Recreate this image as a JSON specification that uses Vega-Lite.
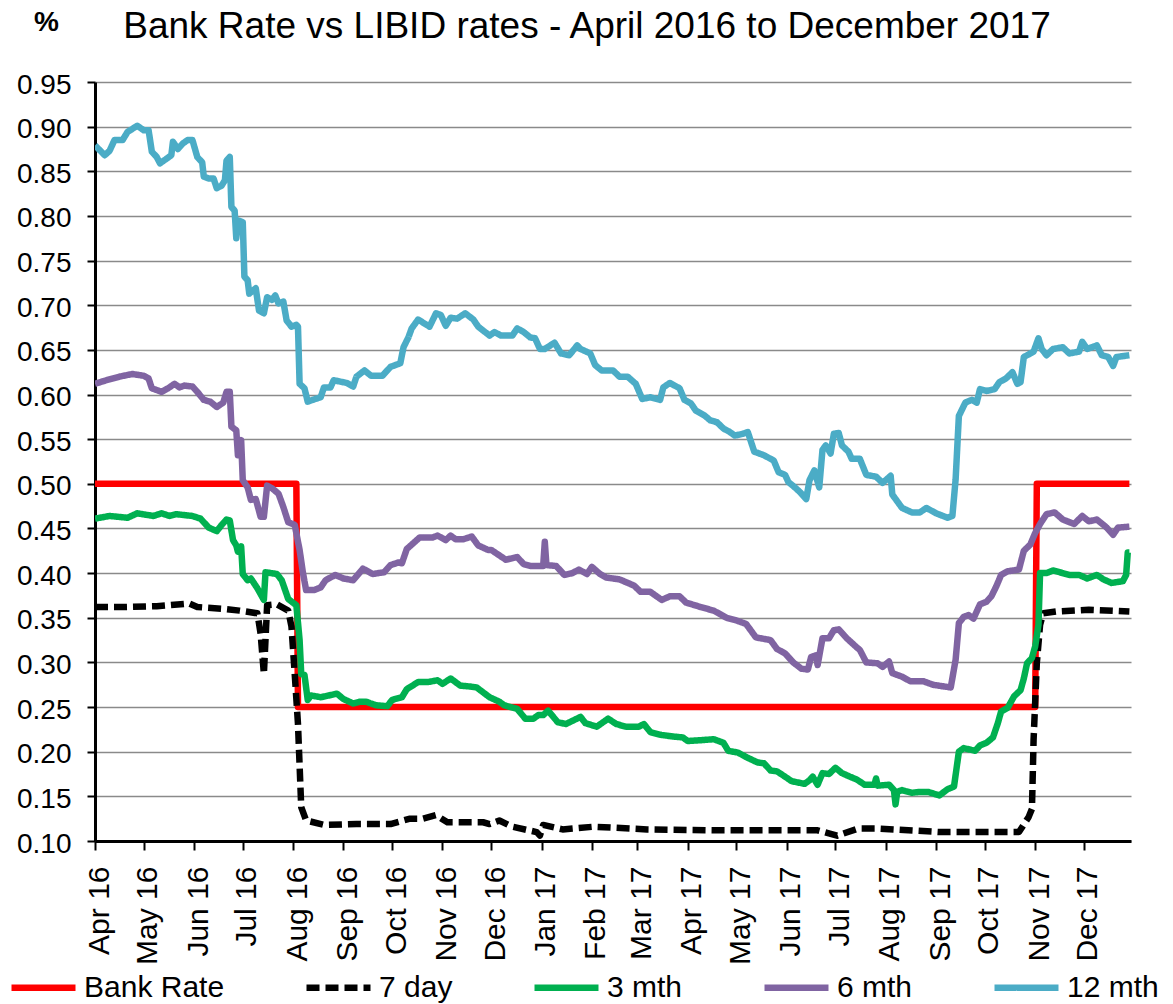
{
"$schema": "https://vega.github.io/schema/vega-lite/v6.json",
"autosize": "none",
"width": 1036,
"height": 759,
"padding": {"left": 95, "top": 82, "right": 42, "bottom": 163},
"background": "white",
"title": {"text": "Bank Rate vs LIBID rates - April 2016 to December 2017", "font": "Liberation Sans", "fontSize": 37, "fontWeight": "normal", "color": "black", "anchor": "middle", "dx": -26, "offset": -38},
"config": {"view": {"stroke": null}, "font": "Liberation Sans"},
"data": {"values": [
{"s":"Bank Rate","d":"2016-04-01","v":0.5},{"s":"Bank Rate","d":"2016-08-03","v":0.5},{"s":"Bank Rate","d":"2016-08-04","v":0.25},{"s":"Bank Rate","d":"2017-11-01","v":0.25},{"s":"Bank Rate","d":"2017-11-02","v":0.5},{"s":"Bank Rate","d":"2017-12-29","v":0.5},
{"s":"7 day","d":"2016-04-01","v":0.362},{"s":"7 day","d":"2016-04-19","v":0.362},{"s":"7 day","d":"2016-05-09","v":0.363},{"s":"7 day","d":"2016-05-29","v":0.366},{"s":"7 day","d":"2016-06-03","v":0.362},{"s":"7 day","d":"2016-06-19","v":0.360},{"s":"7 day","d":"2016-06-29","v":0.358},{"s":"7 day","d":"2016-07-10","v":0.355},{"s":"7 day","d":"2016-07-12","v":0.332},{"s":"7 day","d":"2016-07-14","v":0.287},{"s":"7 day","d":"2016-07-16","v":0.364},{"s":"7 day","d":"2016-07-22","v":0.365},{"s":"7 day","d":"2016-07-29","v":0.358},{"s":"7 day","d":"2016-07-31","v":0.340},{"s":"7 day","d":"2016-08-02","v":0.287},{"s":"7 day","d":"2016-08-04","v":0.231},{"s":"7 day","d":"2016-08-06","v":0.138},{"s":"7 day","d":"2016-08-09","v":0.123},{"s":"7 day","d":"2016-08-20","v":0.118},{"s":"7 day","d":"2016-09-09","v":0.119},{"s":"7 day","d":"2016-09-30","v":0.119},{"s":"7 day","d":"2016-10-12","v":0.125},{"s":"7 day","d":"2016-10-20","v":0.125},{"s":"7 day","d":"2016-10-28","v":0.129},{"s":"7 day","d":"2016-11-04","v":0.121},{"s":"7 day","d":"2016-11-26","v":0.121},{"s":"7 day","d":"2016-11-30","v":0.119},{"s":"7 day","d":"2016-12-06","v":0.123},{"s":"7 day","d":"2016-12-14","v":0.116},{"s":"7 day","d":"2016-12-29","v":0.110},{"s":"7 day","d":"2016-12-31","v":0.106},{"s":"7 day","d":"2017-01-02","v":0.118},{"s":"7 day","d":"2017-01-14","v":0.113},{"s":"7 day","d":"2017-02-02","v":0.116},{"s":"7 day","d":"2017-03-07","v":0.113},{"s":"7 day","d":"2017-04-17","v":0.112},{"s":"7 day","d":"2017-05-28","v":0.112},{"s":"7 day","d":"2017-06-20","v":0.112},{"s":"7 day","d":"2017-07-02","v":0.106},{"s":"7 day","d":"2017-07-15","v":0.114},{"s":"7 day","d":"2017-07-27","v":0.114},{"s":"7 day","d":"2017-09-03","v":0.110},{"s":"7 day","d":"2017-10-14","v":0.110},{"s":"7 day","d":"2017-10-22","v":0.110},{"s":"7 day","d":"2017-10-28","v":0.127},{"s":"7 day","d":"2017-10-30","v":0.136},{"s":"7 day","d":"2017-10-31","v":0.213},{"s":"7 day","d":"2017-11-02","v":0.299},{"s":"7 day","d":"2017-11-04","v":0.342},{"s":"7 day","d":"2017-11-06","v":0.355},{"s":"7 day","d":"2017-11-14","v":0.357},{"s":"7 day","d":"2017-12-04","v":0.359},{"s":"7 day","d":"2017-12-29","v":0.357},
{"s":"3 mth","d":"2016-04-01","v":0.461},{"s":"3 mth","d":"2016-04-10","v":0.464},{"s":"3 mth","d":"2016-04-21","v":0.462},{"s":"3 mth","d":"2016-04-27","v":0.467},{"s":"3 mth","d":"2016-05-07","v":0.464},{"s":"3 mth","d":"2016-05-12","v":0.467},{"s":"3 mth","d":"2016-05-17","v":0.464},{"s":"3 mth","d":"2016-05-21","v":0.466},{"s":"3 mth","d":"2016-05-31","v":0.464},{"s":"3 mth","d":"2016-06-05","v":0.461},{"s":"3 mth","d":"2016-06-10","v":0.451},{"s":"3 mth","d":"2016-06-15","v":0.447},{"s":"3 mth","d":"2016-06-18","v":0.454},{"s":"3 mth","d":"2016-06-21","v":0.460},{"s":"3 mth","d":"2016-06-23","v":0.459},{"s":"3 mth","d":"2016-06-25","v":0.437},{"s":"3 mth","d":"2016-06-27","v":0.431},{"s":"3 mth","d":"2016-06-28","v":0.424},{"s":"3 mth","d":"2016-06-30","v":0.430},{"s":"3 mth","d":"2016-07-01","v":0.399},{"s":"3 mth","d":"2016-07-04","v":0.392},{"s":"3 mth","d":"2016-07-06","v":0.394},{"s":"3 mth","d":"2016-07-10","v":0.383},{"s":"3 mth","d":"2016-07-14","v":0.370},{"s":"3 mth","d":"2016-07-15","v":0.401},{"s":"3 mth","d":"2016-07-22","v":0.399},{"s":"3 mth","d":"2016-07-25","v":0.392},{"s":"3 mth","d":"2016-07-29","v":0.371},{"s":"3 mth","d":"2016-08-03","v":0.364},{"s":"3 mth","d":"2016-08-05","v":0.325},{"s":"3 mth","d":"2016-08-06","v":0.287},{"s":"3 mth","d":"2016-08-08","v":0.286},{"s":"3 mth","d":"2016-08-10","v":0.258},{"s":"3 mth","d":"2016-08-12","v":0.263},{"s":"3 mth","d":"2016-08-18","v":0.261},{"s":"3 mth","d":"2016-08-28","v":0.265},{"s":"3 mth","d":"2016-09-01","v":0.259},{"s":"3 mth","d":"2016-09-07","v":0.254},{"s":"3 mth","d":"2016-09-11","v":0.256},{"s":"3 mth","d":"2016-09-15","v":0.256},{"s":"3 mth","d":"2016-09-21","v":0.252},{"s":"3 mth","d":"2016-09-28","v":0.251},{"s":"3 mth","d":"2016-10-01","v":0.258},{"s":"3 mth","d":"2016-10-07","v":0.261},{"s":"3 mth","d":"2016-10-10","v":0.270},{"s":"3 mth","d":"2016-10-17","v":0.278},{"s":"3 mth","d":"2016-10-23","v":0.278},{"s":"3 mth","d":"2016-10-29","v":0.280},{"s":"3 mth","d":"2016-11-01","v":0.276},{"s":"3 mth","d":"2016-11-06","v":0.282},{"s":"3 mth","d":"2016-11-12","v":0.274},{"s":"3 mth","d":"2016-11-18","v":0.273},{"s":"3 mth","d":"2016-11-22","v":0.272},{"s":"3 mth","d":"2016-11-30","v":0.261},{"s":"3 mth","d":"2016-12-06","v":0.256},{"s":"3 mth","d":"2016-12-09","v":0.252},{"s":"3 mth","d":"2016-12-17","v":0.248},{"s":"3 mth","d":"2016-12-22","v":0.237},{"s":"3 mth","d":"2016-12-27","v":0.237},{"s":"3 mth","d":"2016-12-30","v":0.241},{"s":"3 mth","d":"2017-01-02","v":0.241},{"s":"3 mth","d":"2017-01-05","v":0.246},{"s":"3 mth","d":"2017-01-11","v":0.233},{"s":"3 mth","d":"2017-01-16","v":0.231},{"s":"3 mth","d":"2017-01-25","v":0.239},{"s":"3 mth","d":"2017-01-28","v":0.232},{"s":"3 mth","d":"2017-02-04","v":0.228},{"s":"3 mth","d":"2017-02-11","v":0.237},{"s":"3 mth","d":"2017-02-16","v":0.231},{"s":"3 mth","d":"2017-02-22","v":0.228},{"s":"3 mth","d":"2017-03-02","v":0.228},{"s":"3 mth","d":"2017-03-05","v":0.231},{"s":"3 mth","d":"2017-03-09","v":0.222},{"s":"3 mth","d":"2017-03-15","v":0.219},{"s":"3 mth","d":"2017-03-23","v":0.217},{"s":"3 mth","d":"2017-03-29","v":0.216},{"s":"3 mth","d":"2017-04-01","v":0.212},{"s":"3 mth","d":"2017-04-10","v":0.213},{"s":"3 mth","d":"2017-04-17","v":0.214},{"s":"3 mth","d":"2017-04-23","v":0.210},{"s":"3 mth","d":"2017-04-26","v":0.201},{"s":"3 mth","d":"2017-05-02","v":0.199},{"s":"3 mth","d":"2017-05-07","v":0.194},{"s":"3 mth","d":"2017-05-14","v":0.188},{"s":"3 mth","d":"2017-05-18","v":0.187},{"s":"3 mth","d":"2017-05-22","v":0.179},{"s":"3 mth","d":"2017-05-26","v":0.178},{"s":"3 mth","d":"2017-05-31","v":0.172},{"s":"3 mth","d":"2017-06-04","v":0.167},{"s":"3 mth","d":"2017-06-12","v":0.164},{"s":"3 mth","d":"2017-06-15","v":0.168},{"s":"3 mth","d":"2017-06-17","v":0.172},{"s":"3 mth","d":"2017-06-20","v":0.163},{"s":"3 mth","d":"2017-06-23","v":0.176},{"s":"3 mth","d":"2017-06-27","v":0.175},{"s":"3 mth","d":"2017-07-01","v":0.182},{"s":"3 mth","d":"2017-07-05","v":0.176},{"s":"3 mth","d":"2017-07-10","v":0.172},{"s":"3 mth","d":"2017-07-14","v":0.169},{"s":"3 mth","d":"2017-07-19","v":0.163},{"s":"3 mth","d":"2017-07-25","v":0.163},{"s":"3 mth","d":"2017-07-26","v":0.170},{"s":"3 mth","d":"2017-07-27","v":0.162},{"s":"3 mth","d":"2017-08-03","v":0.163},{"s":"3 mth","d":"2017-08-06","v":0.157},{"s":"3 mth","d":"2017-08-07","v":0.141},{"s":"3 mth","d":"2017-08-08","v":0.155},{"s":"3 mth","d":"2017-08-11","v":0.157},{"s":"3 mth","d":"2017-08-17","v":0.154},{"s":"3 mth","d":"2017-08-22","v":0.155},{"s":"3 mth","d":"2017-08-27","v":0.155},{"s":"3 mth","d":"2017-09-03","v":0.151},{"s":"3 mth","d":"2017-09-08","v":0.158},{"s":"3 mth","d":"2017-09-12","v":0.161},{"s":"3 mth","d":"2017-09-15","v":0.200},{"s":"3 mth","d":"2017-09-18","v":0.204},{"s":"3 mth","d":"2017-09-25","v":0.201},{"s":"3 mth","d":"2017-09-28","v":0.207},{"s":"3 mth","d":"2017-10-02","v":0.210},{"s":"3 mth","d":"2017-10-06","v":0.216},{"s":"3 mth","d":"2017-10-09","v":0.232},{"s":"3 mth","d":"2017-10-11","v":0.245},{"s":"3 mth","d":"2017-10-15","v":0.249},{"s":"3 mth","d":"2017-10-19","v":0.262},{"s":"3 mth","d":"2017-10-23","v":0.269},{"s":"3 mth","d":"2017-10-25","v":0.282},{"s":"3 mth","d":"2017-10-27","v":0.299},{"s":"3 mth","d":"2017-10-30","v":0.305},{"s":"3 mth","d":"2017-11-01","v":0.318},{"s":"3 mth","d":"2017-11-03","v":0.342},{"s":"3 mth","d":"2017-11-04","v":0.400},{"s":"3 mth","d":"2017-11-08","v":0.400},{"s":"3 mth","d":"2017-11-12","v":0.403},{"s":"3 mth","d":"2017-11-18","v":0.400},{"s":"3 mth","d":"2017-11-22","v":0.398},{"s":"3 mth","d":"2017-11-28","v":0.398},{"s":"3 mth","d":"2017-12-03","v":0.394},{"s":"3 mth","d":"2017-12-09","v":0.398},{"s":"3 mth","d":"2017-12-13","v":0.393},{"s":"3 mth","d":"2017-12-18","v":0.389},{"s":"3 mth","d":"2017-12-25","v":0.391},{"s":"3 mth","d":"2017-12-27","v":0.398},{"s":"3 mth","d":"2017-12-28","v":0.423},{"s":"3 mth","d":"2017-12-29","v":0.423},
{"s":"6 mth","d":"2016-04-01","v":0.612},{"s":"6 mth","d":"2016-04-08","v":0.616},{"s":"6 mth","d":"2016-04-16","v":0.620},{"s":"6 mth","d":"2016-04-24","v":0.623},{"s":"6 mth","d":"2016-05-01","v":0.621},{"s":"6 mth","d":"2016-05-04","v":0.618},{"s":"6 mth","d":"2016-05-06","v":0.607},{"s":"6 mth","d":"2016-05-12","v":0.603},{"s":"6 mth","d":"2016-05-16","v":0.607},{"s":"6 mth","d":"2016-05-20","v":0.612},{"s":"6 mth","d":"2016-05-23","v":0.608},{"s":"6 mth","d":"2016-05-26","v":0.610},{"s":"6 mth","d":"2016-05-31","v":0.609},{"s":"6 mth","d":"2016-06-03","v":0.603},{"s":"6 mth","d":"2016-06-07","v":0.594},{"s":"6 mth","d":"2016-06-11","v":0.592},{"s":"6 mth","d":"2016-06-15","v":0.586},{"s":"6 mth","d":"2016-06-19","v":0.591},{"s":"6 mth","d":"2016-06-21","v":0.603},{"s":"6 mth","d":"2016-06-23","v":0.603},{"s":"6 mth","d":"2016-06-24","v":0.564},{"s":"6 mth","d":"2016-06-27","v":0.560},{"s":"6 mth","d":"2016-06-28","v":0.532},{"s":"6 mth","d":"2016-06-30","v":0.549},{"s":"6 mth","d":"2016-07-01","v":0.504},{"s":"6 mth","d":"2016-07-04","v":0.496},{"s":"6 mth","d":"2016-07-06","v":0.482},{"s":"6 mth","d":"2016-07-09","v":0.483},{"s":"6 mth","d":"2016-07-12","v":0.463},{"s":"6 mth","d":"2016-07-14","v":0.463},{"s":"6 mth","d":"2016-07-16","v":0.498},{"s":"6 mth","d":"2016-07-19","v":0.495},{"s":"6 mth","d":"2016-07-23","v":0.489},{"s":"6 mth","d":"2016-07-26","v":0.474},{"s":"6 mth","d":"2016-07-29","v":0.457},{"s":"6 mth","d":"2016-08-02","v":0.454},{"s":"6 mth","d":"2016-08-05","v":0.426},{"s":"6 mth","d":"2016-08-07","v":0.401},{"s":"6 mth","d":"2016-08-09","v":0.381},{"s":"6 mth","d":"2016-08-14","v":0.381},{"s":"6 mth","d":"2016-08-18","v":0.384},{"s":"6 mth","d":"2016-08-21","v":0.392},{"s":"6 mth","d":"2016-08-27","v":0.398},{"s":"6 mth","d":"2016-09-01","v":0.394},{"s":"6 mth","d":"2016-09-07","v":0.392},{"s":"6 mth","d":"2016-09-13","v":0.405},{"s":"6 mth","d":"2016-09-19","v":0.399},{"s":"6 mth","d":"2016-09-26","v":0.401},{"s":"6 mth","d":"2016-09-30","v":0.409},{"s":"6 mth","d":"2016-10-05","v":0.412},{"s":"6 mth","d":"2016-10-07","v":0.411},{"s":"6 mth","d":"2016-10-10","v":0.427},{"s":"6 mth","d":"2016-10-18","v":0.440},{"s":"6 mth","d":"2016-10-26","v":0.440},{"s":"6 mth","d":"2016-10-29","v":0.442},{"s":"6 mth","d":"2016-11-03","v":0.437},{"s":"6 mth","d":"2016-11-06","v":0.442},{"s":"6 mth","d":"2016-11-09","v":0.438},{"s":"6 mth","d":"2016-11-14","v":0.438},{"s":"6 mth","d":"2016-11-19","v":0.441},{"s":"6 mth","d":"2016-11-23","v":0.431},{"s":"6 mth","d":"2016-11-29","v":0.426},{"s":"6 mth","d":"2016-12-01","v":0.426},{"s":"6 mth","d":"2016-12-10","v":0.415},{"s":"6 mth","d":"2016-12-17","v":0.418},{"s":"6 mth","d":"2016-12-21","v":0.410},{"s":"6 mth","d":"2016-12-25","v":0.408},{"s":"6 mth","d":"2017-01-02","v":0.408},{"s":"6 mth","d":"2017-01-03","v":0.435},{"s":"6 mth","d":"2017-01-04","v":0.409},{"s":"6 mth","d":"2017-01-10","v":0.408},{"s":"6 mth","d":"2017-01-15","v":0.398},{"s":"6 mth","d":"2017-01-20","v":0.400},{"s":"6 mth","d":"2017-01-24","v":0.404},{"s":"6 mth","d":"2017-01-29","v":0.399},{"s":"6 mth","d":"2017-02-01","v":0.407},{"s":"6 mth","d":"2017-02-06","v":0.399},{"s":"6 mth","d":"2017-02-10","v":0.395},{"s":"6 mth","d":"2017-02-18","v":0.393},{"s":"6 mth","d":"2017-02-27","v":0.386},{"s":"6 mth","d":"2017-03-03","v":0.379},{"s":"6 mth","d":"2017-03-09","v":0.379},{"s":"6 mth","d":"2017-03-16","v":0.370},{"s":"6 mth","d":"2017-03-21","v":0.374},{"s":"6 mth","d":"2017-03-27","v":0.374},{"s":"6 mth","d":"2017-03-31","v":0.367},{"s":"6 mth","d":"2017-04-09","v":0.362},{"s":"6 mth","d":"2017-04-17","v":0.358},{"s":"6 mth","d":"2017-04-25","v":0.350},{"s":"6 mth","d":"2017-05-01","v":0.347},{"s":"6 mth","d":"2017-05-07","v":0.343},{"s":"6 mth","d":"2017-05-13","v":0.328},{"s":"6 mth","d":"2017-05-22","v":0.325},{"s":"6 mth","d":"2017-05-26","v":0.315},{"s":"6 mth","d":"2017-05-31","v":0.310},{"s":"6 mth","d":"2017-06-05","v":0.300},{"s":"6 mth","d":"2017-06-10","v":0.293},{"s":"6 mth","d":"2017-06-14","v":0.292},{"s":"6 mth","d":"2017-06-16","v":0.306},{"s":"6 mth","d":"2017-06-19","v":0.308},{"s":"6 mth","d":"2017-06-20","v":0.297},{"s":"6 mth","d":"2017-06-23","v":0.327},{"s":"6 mth","d":"2017-06-27","v":0.327},{"s":"6 mth","d":"2017-06-30","v":0.336},{"s":"6 mth","d":"2017-07-03","v":0.337},{"s":"6 mth","d":"2017-07-08","v":0.327},{"s":"6 mth","d":"2017-07-14","v":0.317},{"s":"6 mth","d":"2017-07-16","v":0.314},{"s":"6 mth","d":"2017-07-20","v":0.300},{"s":"6 mth","d":"2017-07-27","v":0.299},{"s":"6 mth","d":"2017-07-30","v":0.295},{"s":"6 mth","d":"2017-08-03","v":0.301},{"s":"6 mth","d":"2017-08-05","v":0.288},{"s":"6 mth","d":"2017-08-11","v":0.284},{"s":"6 mth","d":"2017-08-16","v":0.279},{"s":"6 mth","d":"2017-08-24","v":0.279},{"s":"6 mth","d":"2017-08-30","v":0.275},{"s":"6 mth","d":"2017-09-06","v":0.273},{"s":"6 mth","d":"2017-09-10","v":0.272},{"s":"6 mth","d":"2017-09-13","v":0.303},{"s":"6 mth","d":"2017-09-15","v":0.344},{"s":"6 mth","d":"2017-09-18","v":0.351},{"s":"6 mth","d":"2017-09-21","v":0.353},{"s":"6 mth","d":"2017-09-24","v":0.349},{"s":"6 mth","d":"2017-09-28","v":0.365},{"s":"6 mth","d":"2017-10-02","v":0.368},{"s":"6 mth","d":"2017-10-05","v":0.374},{"s":"6 mth","d":"2017-10-08","v":0.385},{"s":"6 mth","d":"2017-10-11","v":0.398},{"s":"6 mth","d":"2017-10-15","v":0.402},{"s":"6 mth","d":"2017-10-22","v":0.404},{"s":"6 mth","d":"2017-10-25","v":0.425},{"s":"6 mth","d":"2017-10-29","v":0.432},{"s":"6 mth","d":"2017-11-01","v":0.445},{"s":"6 mth","d":"2017-11-04","v":0.455},{"s":"6 mth","d":"2017-11-08","v":0.466},{"s":"6 mth","d":"2017-11-13","v":0.468},{"s":"6 mth","d":"2017-11-18","v":0.460},{"s":"6 mth","d":"2017-11-25","v":0.455},{"s":"6 mth","d":"2017-11-30","v":0.464},{"s":"6 mth","d":"2017-12-04","v":0.458},{"s":"6 mth","d":"2017-12-09","v":0.460},{"s":"6 mth","d":"2017-12-15","v":0.451},{"s":"6 mth","d":"2017-12-19","v":0.443},{"s":"6 mth","d":"2017-12-22","v":0.451},{"s":"6 mth","d":"2017-12-29","v":0.452},
{"s":"12 mth","d":"2016-04-01","v":0.879},{"s":"12 mth","d":"2016-04-07","v":0.868},{"s":"12 mth","d":"2016-04-10","v":0.873},{"s":"12 mth","d":"2016-04-13","v":0.885},{"s":"12 mth","d":"2016-04-18","v":0.885},{"s":"12 mth","d":"2016-04-21","v":0.894},{"s":"12 mth","d":"2016-04-27","v":0.901},{"s":"12 mth","d":"2016-05-01","v":0.896},{"s":"12 mth","d":"2016-05-04","v":0.896},{"s":"12 mth","d":"2016-05-06","v":0.872},{"s":"12 mth","d":"2016-05-09","v":0.866},{"s":"12 mth","d":"2016-05-11","v":0.859},{"s":"12 mth","d":"2016-05-15","v":0.864},{"s":"12 mth","d":"2016-05-18","v":0.868},{"s":"12 mth","d":"2016-05-19","v":0.883},{"s":"12 mth","d":"2016-05-22","v":0.875},{"s":"12 mth","d":"2016-05-25","v":0.881},{"s":"12 mth","d":"2016-05-28","v":0.885},{"s":"12 mth","d":"2016-05-31","v":0.885},{"s":"12 mth","d":"2016-06-03","v":0.866},{"s":"12 mth","d":"2016-06-06","v":0.860},{"s":"12 mth","d":"2016-06-07","v":0.844},{"s":"12 mth","d":"2016-06-10","v":0.842},{"s":"12 mth","d":"2016-06-13","v":0.842},{"s":"12 mth","d":"2016-06-15","v":0.831},{"s":"12 mth","d":"2016-06-18","v":0.834},{"s":"12 mth","d":"2016-06-20","v":0.840},{"s":"12 mth","d":"2016-06-21","v":0.862},{"s":"12 mth","d":"2016-06-23","v":0.866},{"s":"12 mth","d":"2016-06-24","v":0.810},{"s":"12 mth","d":"2016-06-26","v":0.806},{"s":"12 mth","d":"2016-06-27","v":0.775},{"s":"12 mth","d":"2016-06-28","v":0.795},{"s":"12 mth","d":"2016-07-01","v":0.793},{"s":"12 mth","d":"2016-07-02","v":0.732},{"s":"12 mth","d":"2016-07-04","v":0.728},{"s":"12 mth","d":"2016-07-05","v":0.713},{"s":"12 mth","d":"2016-07-09","v":0.719},{"s":"12 mth","d":"2016-07-11","v":0.694},{"s":"12 mth","d":"2016-07-14","v":0.691},{"s":"12 mth","d":"2016-07-16","v":0.709},{"s":"12 mth","d":"2016-07-19","v":0.706},{"s":"12 mth","d":"2016-07-21","v":0.711},{"s":"12 mth","d":"2016-07-23","v":0.702},{"s":"12 mth","d":"2016-07-26","v":0.704},{"s":"12 mth","d":"2016-07-28","v":0.683},{"s":"12 mth","d":"2016-07-31","v":0.676},{"s":"12 mth","d":"2016-08-03","v":0.678},{"s":"12 mth","d":"2016-08-04","v":0.676},{"s":"12 mth","d":"2016-08-05","v":0.612},{"s":"12 mth","d":"2016-08-08","v":0.607},{"s":"12 mth","d":"2016-08-10","v":0.592},{"s":"12 mth","d":"2016-08-13","v":0.594},{"s":"12 mth","d":"2016-08-18","v":0.597},{"s":"12 mth","d":"2016-08-20","v":0.608},{"s":"12 mth","d":"2016-08-24","v":0.608},{"s":"12 mth","d":"2016-08-26","v":0.616},{"s":"12 mth","d":"2016-09-03","v":0.613},{"s":"12 mth","d":"2016-09-07","v":0.609},{"s":"12 mth","d":"2016-09-09","v":0.620},{"s":"12 mth","d":"2016-09-14","v":0.627},{"s":"12 mth","d":"2016-09-18","v":0.621},{"s":"12 mth","d":"2016-09-25","v":0.621},{"s":"12 mth","d":"2016-09-30","v":0.631},{"s":"12 mth","d":"2016-10-06","v":0.635},{"s":"12 mth","d":"2016-10-08","v":0.653},{"s":"12 mth","d":"2016-10-11","v":0.664},{"s":"12 mth","d":"2016-10-13","v":0.674},{"s":"12 mth","d":"2016-10-17","v":0.684},{"s":"12 mth","d":"2016-10-24","v":0.676},{"s":"12 mth","d":"2016-10-28","v":0.691},{"s":"12 mth","d":"2016-10-31","v":0.689},{"s":"12 mth","d":"2016-11-03","v":0.677},{"s":"12 mth","d":"2016-11-06","v":0.686},{"s":"12 mth","d":"2016-11-10","v":0.685},{"s":"12 mth","d":"2016-11-15","v":0.691},{"s":"12 mth","d":"2016-11-20","v":0.684},{"s":"12 mth","d":"2016-11-23","v":0.676},{"s":"12 mth","d":"2016-11-30","v":0.666},{"s":"12 mth","d":"2016-12-03","v":0.670},{"s":"12 mth","d":"2016-12-07","v":0.666},{"s":"12 mth","d":"2016-12-14","v":0.666},{"s":"12 mth","d":"2016-12-17","v":0.674},{"s":"12 mth","d":"2016-12-21","v":0.670},{"s":"12 mth","d":"2016-12-25","v":0.664},{"s":"12 mth","d":"2016-12-28","v":0.663},{"s":"12 mth","d":"2016-12-31","v":0.651},{"s":"12 mth","d":"2017-01-03","v":0.651},{"s":"12 mth","d":"2017-01-09","v":0.658},{"s":"12 mth","d":"2017-01-13","v":0.646},{"s":"12 mth","d":"2017-01-18","v":0.644},{"s":"12 mth","d":"2017-01-23","v":0.655},{"s":"12 mth","d":"2017-01-25","v":0.651},{"s":"12 mth","d":"2017-01-31","v":0.646},{"s":"12 mth","d":"2017-02-03","v":0.633},{"s":"12 mth","d":"2017-02-07","v":0.627},{"s":"12 mth","d":"2017-02-14","v":0.627},{"s":"12 mth","d":"2017-02-18","v":0.620},{"s":"12 mth","d":"2017-02-23","v":0.620},{"s":"12 mth","d":"2017-02-28","v":0.612},{"s":"12 mth","d":"2017-03-04","v":0.595},{"s":"12 mth","d":"2017-03-09","v":0.597},{"s":"12 mth","d":"2017-03-15","v":0.594},{"s":"12 mth","d":"2017-03-17","v":0.608},{"s":"12 mth","d":"2017-03-21","v":0.613},{"s":"12 mth","d":"2017-03-27","v":0.607},{"s":"12 mth","d":"2017-03-30","v":0.594},{"s":"12 mth","d":"2017-04-03","v":0.590},{"s":"12 mth","d":"2017-04-06","v":0.582},{"s":"12 mth","d":"2017-04-11","v":0.577},{"s":"12 mth","d":"2017-04-15","v":0.571},{"s":"12 mth","d":"2017-04-19","v":0.569},{"s":"12 mth","d":"2017-04-23","v":0.562},{"s":"12 mth","d":"2017-04-27","v":0.558},{"s":"12 mth","d":"2017-04-30","v":0.554},{"s":"12 mth","d":"2017-05-05","v":0.556},{"s":"12 mth","d":"2017-05-08","v":0.558},{"s":"12 mth","d":"2017-05-12","v":0.536},{"s":"12 mth","d":"2017-05-18","v":0.532},{"s":"12 mth","d":"2017-05-24","v":0.526},{"s":"12 mth","d":"2017-05-27","v":0.513},{"s":"12 mth","d":"2017-05-31","v":0.510},{"s":"12 mth","d":"2017-06-02","v":0.502},{"s":"12 mth","d":"2017-06-06","v":0.496},{"s":"12 mth","d":"2017-06-09","v":0.491},{"s":"12 mth","d":"2017-06-13","v":0.483},{"s":"12 mth","d":"2017-06-15","v":0.504},{"s":"12 mth","d":"2017-06-18","v":0.515},{"s":"12 mth","d":"2017-06-21","v":0.496},{"s":"12 mth","d":"2017-06-23","v":0.538},{"s":"12 mth","d":"2017-06-25","v":0.543},{"s":"12 mth","d":"2017-06-28","v":0.534},{"s":"12 mth","d":"2017-06-30","v":0.556},{"s":"12 mth","d":"2017-07-03","v":0.557},{"s":"12 mth","d":"2017-07-05","v":0.543},{"s":"12 mth","d":"2017-07-09","v":0.536},{"s":"12 mth","d":"2017-07-11","v":0.528},{"s":"12 mth","d":"2017-07-16","v":0.528},{"s":"12 mth","d":"2017-07-20","v":0.510},{"s":"12 mth","d":"2017-07-26","v":0.508},{"s":"12 mth","d":"2017-07-30","v":0.501},{"s":"12 mth","d":"2017-08-04","v":0.509},{"s":"12 mth","d":"2017-08-05","v":0.488},{"s":"12 mth","d":"2017-08-11","v":0.473},{"s":"12 mth","d":"2017-08-17","v":0.468},{"s":"12 mth","d":"2017-08-22","v":0.468},{"s":"12 mth","d":"2017-08-26","v":0.473},{"s":"12 mth","d":"2017-09-01","v":0.467},{"s":"12 mth","d":"2017-09-08","v":0.462},{"s":"12 mth","d":"2017-09-11","v":0.464},{"s":"12 mth","d":"2017-09-13","v":0.505},{"s":"12 mth","d":"2017-09-15","v":0.576},{"s":"12 mth","d":"2017-09-19","v":0.591},{"s":"12 mth","d":"2017-09-23","v":0.594},{"s":"12 mth","d":"2017-09-26","v":0.591},{"s":"12 mth","d":"2017-09-28","v":0.606},{"s":"12 mth","d":"2017-10-02","v":0.604},{"s":"12 mth","d":"2017-10-07","v":0.606},{"s":"12 mth","d":"2017-10-10","v":0.614},{"s":"12 mth","d":"2017-10-14","v":0.618},{"s":"12 mth","d":"2017-10-18","v":0.625},{"s":"12 mth","d":"2017-10-21","v":0.612},{"s":"12 mth","d":"2017-10-23","v":0.614},{"s":"12 mth","d":"2017-10-25","v":0.642},{"s":"12 mth","d":"2017-10-29","v":0.646},{"s":"12 mth","d":"2017-10-31","v":0.648},{"s":"12 mth","d":"2017-11-03","v":0.663},{"s":"12 mth","d":"2017-11-05","v":0.651},{"s":"12 mth","d":"2017-11-08","v":0.644},{"s":"12 mth","d":"2017-11-12","v":0.651},{"s":"12 mth","d":"2017-11-18","v":0.653},{"s":"12 mth","d":"2017-11-22","v":0.646},{"s":"12 mth","d":"2017-11-28","v":0.648},{"s":"12 mth","d":"2017-11-30","v":0.659},{"s":"12 mth","d":"2017-12-03","v":0.651},{"s":"12 mth","d":"2017-12-09","v":0.655},{"s":"12 mth","d":"2017-12-12","v":0.644},{"s":"12 mth","d":"2017-12-16","v":0.642},{"s":"12 mth","d":"2017-12-19","v":0.632},{"s":"12 mth","d":"2017-12-21","v":0.642},{"s":"12 mth","d":"2017-12-29","v":0.644}
]},
"mark": {"type": "line", "strokeWidth": 6.5, "strokeJoin": "round", "clip": true},
"encoding": {
  "x": {"field": "d", "type": "temporal",
    "scale": {"type": "utc", "domain": [{"year": 2016, "month": 4, "date": 1, "utc": true}, {"year": 2017, "month": 12, "date": 30, "utc": true}]},
    "axis": {"title": null, "format": "%b %y", "labelAngle": -90, "labelFontSize": 30, "labelFont": "Liberation Sans", "labelColor": "black", "labelPadding": 16, "labelOffset": 4, "labelFlush": false, "labelOverlap": false, "labelBound": false,
      "grid": false, "domainColor": "black", "domainWidth": 3, "tickColor": "black", "tickWidth": 2, "tickSize": 9,
      "values": [
        {"year": 2016, "month": 4, "date": 1, "utc": true}, {"year": 2016, "month": 5, "date": 1, "utc": true}, {"year": 2016, "month": 6, "date": 1, "utc": true}, {"year": 2016, "month": 7, "date": 1, "utc": true}, {"year": 2016, "month": 8, "date": 1, "utc": true}, {"year": 2016, "month": 9, "date": 1, "utc": true}, {"year": 2016, "month": 10, "date": 1, "utc": true}, {"year": 2016, "month": 11, "date": 1, "utc": true}, {"year": 2016, "month": 12, "date": 1, "utc": true},
        {"year": 2017, "month": 1, "date": 1, "utc": true}, {"year": 2017, "month": 2, "date": 1, "utc": true}, {"year": 2017, "month": 3, "date": 1, "utc": true}, {"year": 2017, "month": 4, "date": 1, "utc": true}, {"year": 2017, "month": 5, "date": 1, "utc": true}, {"year": 2017, "month": 6, "date": 1, "utc": true}, {"year": 2017, "month": 7, "date": 1, "utc": true}, {"year": 2017, "month": 8, "date": 1, "utc": true}, {"year": 2017, "month": 9, "date": 1, "utc": true}, {"year": 2017, "month": 10, "date": 1, "utc": true}, {"year": 2017, "month": 11, "date": 1, "utc": true}, {"year": 2017, "month": 12, "date": 1, "utc": true}
      ]}},
  "y": {"field": "v", "type": "quantitative",
    "scale": {"domain": [0.1, 0.95], "nice": false, "zero": false},
    "axis": {"title": "%", "titleAngle": 0, "titleX": -49, "titleY": -60, "titleAlign": "center", "titleBaseline": "middle", "titleFontSize": 28, "titleFontWeight": "bold", "titleFont": "Liberation Sans", "titleColor": "black",
      "values": [0.1, 0.15, 0.2, 0.25, 0.3, 0.35, 0.4, 0.45, 0.5, 0.55, 0.6, 0.65, 0.7, 0.75, 0.8, 0.85, 0.9, 0.95],
      "format": ".2f", "labelFontSize": 28, "labelFont": "Liberation Sans", "labelColor": "black", "labelPadding": 16, "labelOffset": 3, "labelFlush": false,
      "grid": true, "gridColor": "#8a8a8a", "gridWidth": 1.6, "domainColor": "black", "domainWidth": 3, "tickColor": "black", "tickWidth": 2, "tickSize": 8}},
  "color": {"field": "s", "type": "nominal",
    "scale": {"domain": ["Bank Rate", "7 day", "3 mth", "6 mth", "12 mth"], "range": ["#FF0000", "#000000", "#00B050", "#8064A2", "#4BACC6"]},
    "legend": {"title": null, "orient": "none", "legendX": -87, "legendY": 870, "direction": "horizontal", "columns": 5, "columnPadding": 68, "gridAlign": "each", "padding": 0,
      "symbolType": "stroke", "symbolSize": 4096, "symbolStrokeWidth": 6.5, "labelFontSize": 30, "labelFont": "Liberation Sans", "labelColor": "black", "labelOffset": 5, "labelLimit": 400}},
  "strokeDash": {"field": "s", "type": "nominal",
    "scale": {"domain": ["Bank Rate", "7 day", "3 mth", "6 mth", "12 mth"], "range": [[1, 0], [13, 6], [1, 0], [1, 0], [1, 0]]}}
}
}
